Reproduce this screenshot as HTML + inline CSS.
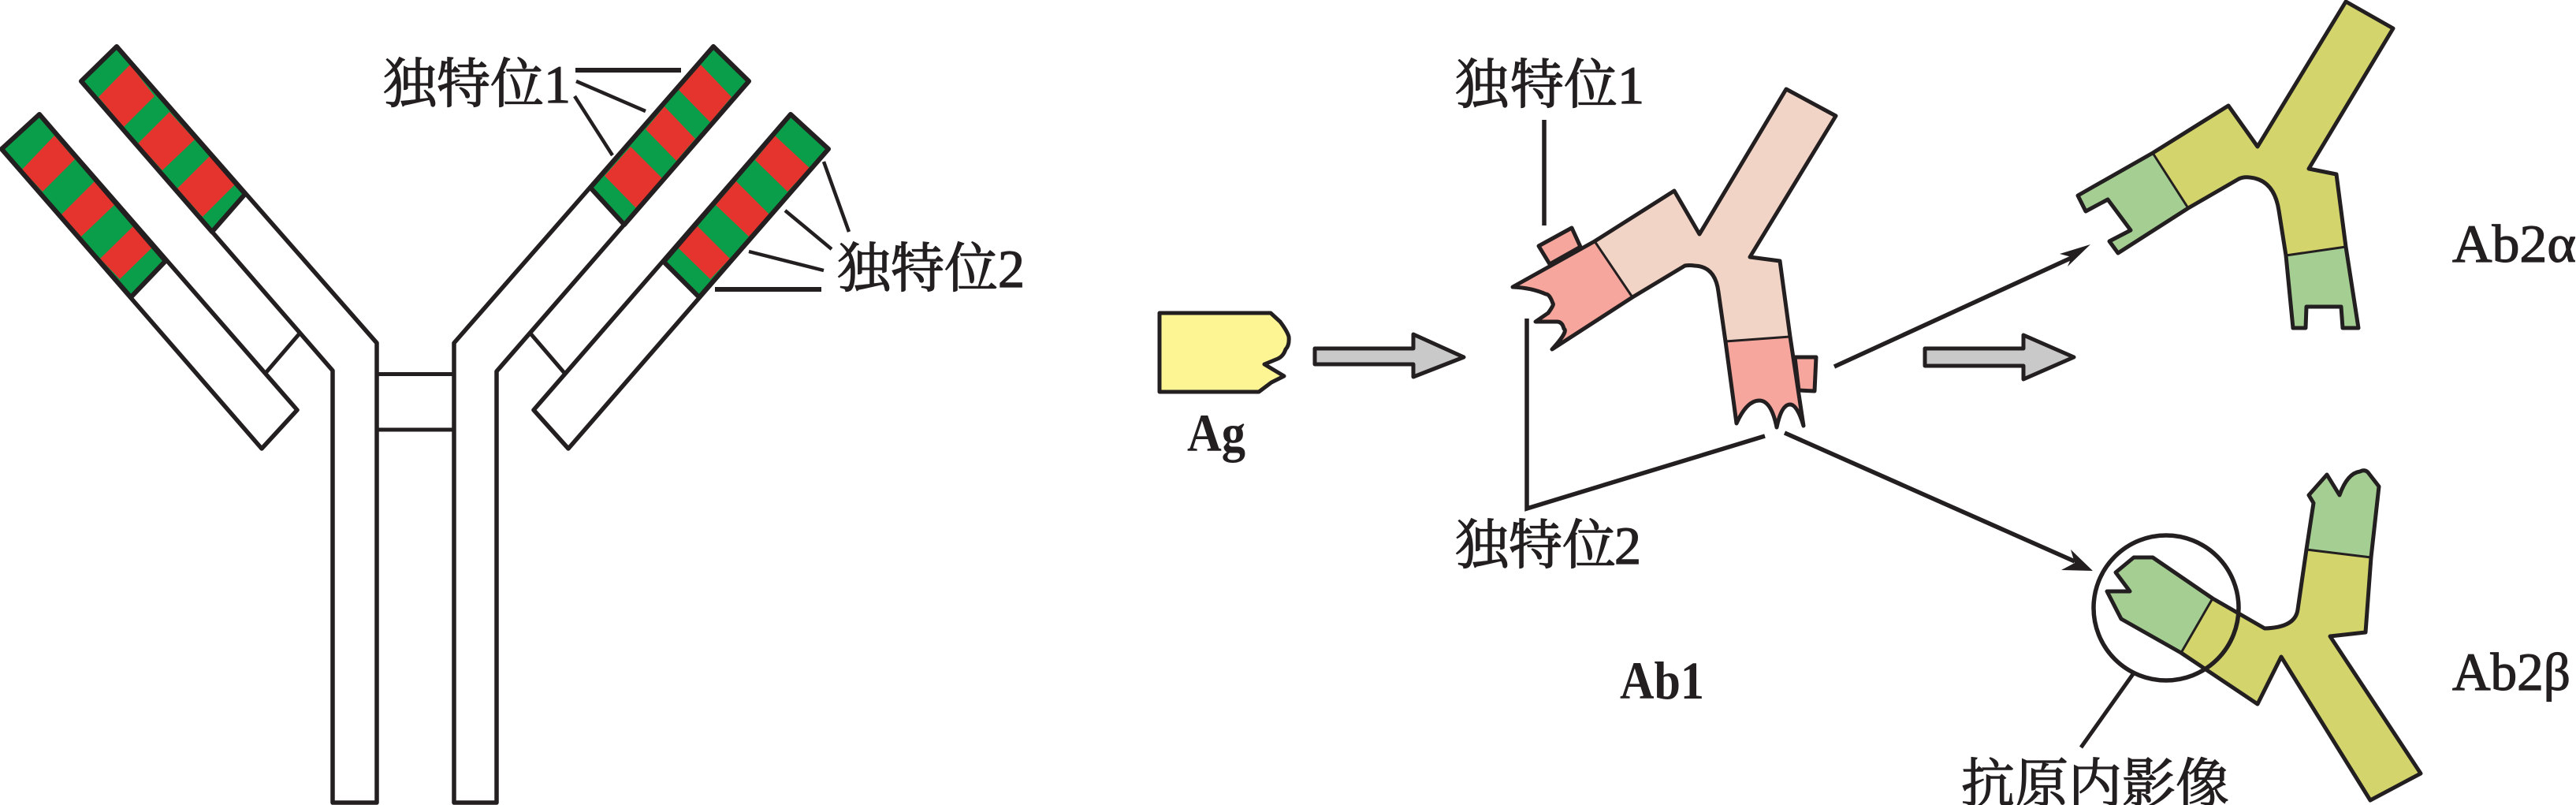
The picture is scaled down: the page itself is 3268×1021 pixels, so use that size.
<!DOCTYPE html>
<html><head><meta charset="utf-8"><style>
html,body{margin:0;padding:0;background:#fff}
svg{display:block}
.cj{font-family:"Liberation Serif","Noto Serif CJK SC",serif;fill:#231f20;stroke:#231f20;stroke-width:1.300px;font-size:68px;font-weight:400}
.la{font-family:"Liberation Serif",serif;fill:#231f20;font-size:68px}
.lb{font-family:"Liberation Serif",serif;fill:#231f20;stroke:#231f20;stroke-width:1.200px;font-size:68px}
</style></head><body>
<svg width="3268" height="1021" viewBox="0 0 3268 1021" xmlns="http://www.w3.org/2000/svg">
<rect width="3268" height="1021" fill="#fff"/>
<g stroke-linejoin="miter" stroke="#231f20" fill="none" stroke-width="5.5">
<path d="M148 59L478 435V1018H422V470L103 103Z" fill="#fff" stroke-linejoin="round"/>
<path d="M905 59L576 435V1018H630V471L950 103Z" fill="#fff" stroke-linejoin="round"/>
<path d="M478 474.500H576M478 545H576" stroke-width="5"/>
<path d="M50 145L377 520L332 569L2 189Z" fill="#fff" stroke-linejoin="round"/>
<path d="M1003 145L677 520L721 569L1051 189Z" fill="#fff" stroke-linejoin="round"/>
<path d="M380 423L337 473M673 423L716 473" stroke-width="5"/>
</g>
<g stroke="none">
<path d="M50 145L210 331L166 377L2 189Z" fill="#0b9e4a"/>
<path d="M148 59L311 246L269 294L103 103Z" fill="#0b9e4a"/>
<path d="M905 59L950 103L792 285L749 238Z" fill="#0b9e4a"/>
<path d="M1003 145L1051 189L887 377L842 332Z" fill="#0b9e4a"/>
<g fill="#e5332d">
<path d="M69 172L95 202L54 243L28 215Z"/><path d="M120 230L145 260L103 300L78 272Z"/><path d="M169 287L193 314L152 354L127 328Z"/>
<path d="M165 82L196 122L157 161L125 123Z"/><path d="M215 142L247 177L206 216L175 182Z"/><path d="M266 198L298 234L257 275L225 239Z"/>
<path d="M889 82L928 123L901 155L861 114Z"/><path d="M843 135L882 176L858 204L819 164Z"/><path d="M800 186L840 226L807 264L767 223Z"/>
<path d="M983 172L1027 213L999 243L958 203Z"/><path d="M934 230L976 272L950 300L908 260Z"/><path d="M885 287L926 328L901 354L860 314Z"/>
</g>
</g>
<g stroke="#231f20" fill="none" stroke-width="6" stroke-linejoin="round">
<path d="M50 145L210 331L166 377L2 189Z"/>
<path d="M148 59L311 246L269 294L103 103Z"/>
<path d="M905 59L950 103L792 285L749 238Z"/>
<path d="M1003 145L1051 189L887 377L842 332Z"/>
</g>
<g stroke="#231f20" fill="none" stroke-width="4.500">
<path d="M730 89H864" stroke-width="6"/>
<path d="M731 103L819 141"/>
<path d="M729 122L777 197"/>
<path d="M1045 205L1077 294"/>
<path d="M996 267L1055 316"/>
<path d="M950 319L1045 343"/>
<path d="M907 367H1042" stroke-width="6"/>
</g>
<text class="cj" x="486 554 622 690" y="130">独特位1</text>
<text class="cj" x="1062 1130 1198 1266" y="364">独特位2</text>

<path d="M1471 397H1612L1624 408Q1633 420 1635 427Q1636 438 1631 443Q1628 452 1621 455L1604 462L1629 477L1613 485L1597 497H1471Z" fill="#fdf594" stroke="#231f20" stroke-width="5" stroke-linejoin="round"/>
<text class="la" x="1506" y="572" font-weight="700" textLength="74" lengthAdjust="spacingAndGlyphs">Ag</text>
<path d="M1668 442H1793V424L1857 453L1793 478V462H1668Z" fill="#c9c9c9" stroke="#231f20" stroke-width="5" stroke-linejoin="round"/>
<path d="M2442 442H2567V425L2631 453L2567 481V464H2442Z" fill="#c9c9c9" stroke="#231f20" stroke-width="5" stroke-linejoin="round"/>

<!-- Ab1 -->
<g stroke="#231f20" stroke-width="5" stroke-linejoin="round">
<path d="M1952 312L1994 289L2005 313L1966 335Z" fill="#f6a69c"/>
<path d="M2277 453H2304L2302 496L2282 495Z" fill="#f6a69c"/>
</g>
<path d="M2266 113L2329 147L2220 326L2258 331L2271 427L2189 433L2180 370Q2176 338 2150 337Q2143 336 2137.500 337L2071 377L2023 306L2124 242L2156 297Z" fill="#f2d4c6"/>
<path d="M2023 306L2071 377L1969 443Q1990 420 1984 417Q1982 408 1975 408L1948 408L1964 397Q1972 386 1970 385Q1966 373 1961 373Q1943 365 1919 364Z" fill="#f6a69c"/>
<path d="M2189 433L2271 427L2288 540Q2280 513 2271 513Q2260 513 2254 542Q2247 508 2232 508Q2216 508 2203 537Z" fill="#f6a69c"/>
<path d="M2266 113L2329 147L2220 326L2258 331L2271 427L2288 540Q2280 513 2271 513Q2260 513 2254 542Q2247 508 2232 508Q2216 508 2203 537L2189 433L2180 370Q2176 338 2150 337Q2143 336 2137.500 337L2071 377L1969 443Q1990 420 1984 417Q1982 408 1975 408L1948 408L1964 397Q1972 386 1970 385Q1966 373 1961 373Q1943 365 1919 364L2023 306L2124 242L2156 297Z" fill="none" stroke="#231f20" stroke-width="5" stroke-linejoin="round"/>
<path d="M2023 306L2071 377M2189 433L2271 427" stroke="#231f20" stroke-width="3"/>
<text class="cj" x="1846 1916 1984 2052" y="131">独特位1</text>
<path d="M1959 152V286" stroke="#231f20" stroke-width="5.500"/>
<path d="M1937 404V645L2239 553" fill="none" stroke="#231f20" stroke-width="5.500"/>
<text class="cj" x="1846 1914 1982 2048" y="715">独特位2</text>
<text class="la" x="2055" y="886" font-weight="700" textLength="107" lengthAdjust="spacingAndGlyphs">Ab1</text>

<path d="M2327 465L2630 326" stroke="#231f20" stroke-width="5.500"/>
<path d="M2652 310L2613 322L2628 326L2623 338Z" fill="#231f20"/>
<path d="M2264 549L2632 712" stroke="#231f20" stroke-width="5.500"/>
<path d="M2655 724L2627 697L2632 714L2615 723Z" fill="#231f20"/>

<!-- Ab2 alpha -->
<path d="M2976 2L3036 36L2929 214L2964 221L2976 313L2900 324L2891 267Q2885 228 2854 225Q2846 224 2840 227L2776 264L2731 194L2827 134L2864 186Z" fill="#d3d56c"/>
<path d="M2731 194L2776 264L2687 321L2676 306L2703 292L2674 253L2646 268L2636 248Z" fill="#a5ce93"/>
<path d="M2900 324L2976 313L2992 416H2972L2970 389H2926L2925 416H2909Z" fill="#a5ce93"/>
<path d="M2976 2L3036 36L2929 214L2964 221L2976 313L2992 416H2972L2970 389H2926L2925 416H2909L2900 324L2891 267Q2885 228 2854 225Q2846 224 2840 227L2776 264L2687 321L2676 306L2703 292L2674 253L2646 268L2636 248L2731 194L2827 134L2864 186Z" fill="none" stroke="#231f20" stroke-width="5" stroke-linejoin="round"/>
<path d="M2731 194L2776 264M2900 324L2976 313" stroke="#231f20" stroke-width="3"/>
<text class="lb" x="3111" y="332" textLength="157" lengthAdjust="spacingAndGlyphs">Ab2α</text>

<!-- Ab2 beta -->
<path d="M3008 707L3001 802L2956 807L3071 981L3007 1015L2894 833L2864 893L2767 828L2807 759L2873 797Q2912 796 2915 773L2926 697Z" fill="#d3d56c"/>
<path d="M2994 598Q3000 595 3004 599L3018 617L3008 707L2926 697L2935 638L2929 628L2952 602L2968 628Q2978 600 2994 598Z" fill="#a5ce93"/>
<path d="M2807 759L2767 828L2691 785L2673 750H2702L2684 726L2707 707H2731Z" fill="#a5ce93"/>
<path d="M2994 598Q3000 595 3004 599L3018 617L3008 707L3001 802L2956 807L3071 981L3007 1015L2894 833L2864 893L2767 828L2691 785L2673 750H2702L2684 726L2707 707H2731L2807 759L2873 797Q2912 796 2915 773L2926 697L2935 638L2929 628L2952 602L2968 628Q2978 600 2994 598Z" fill="none" stroke="#231f20" stroke-width="5" stroke-linejoin="round"/>
<path d="M2807 759L2767 828M2926 697L3008 707" stroke="#231f20" stroke-width="3"/>
<circle cx="2748" cy="771" r="92" fill="none" stroke="#231f20" stroke-width="5.500"/>
<path d="M2706 855L2640 948" stroke="#231f20" stroke-width="5"/>
<text class="cj" x="2488 2556 2624 2692 2760" y="1018">抗原内影像</text>
<text class="lb" x="3111" y="875" textLength="150" lengthAdjust="spacingAndGlyphs">Ab2β</text>
</svg>
</body></html>
